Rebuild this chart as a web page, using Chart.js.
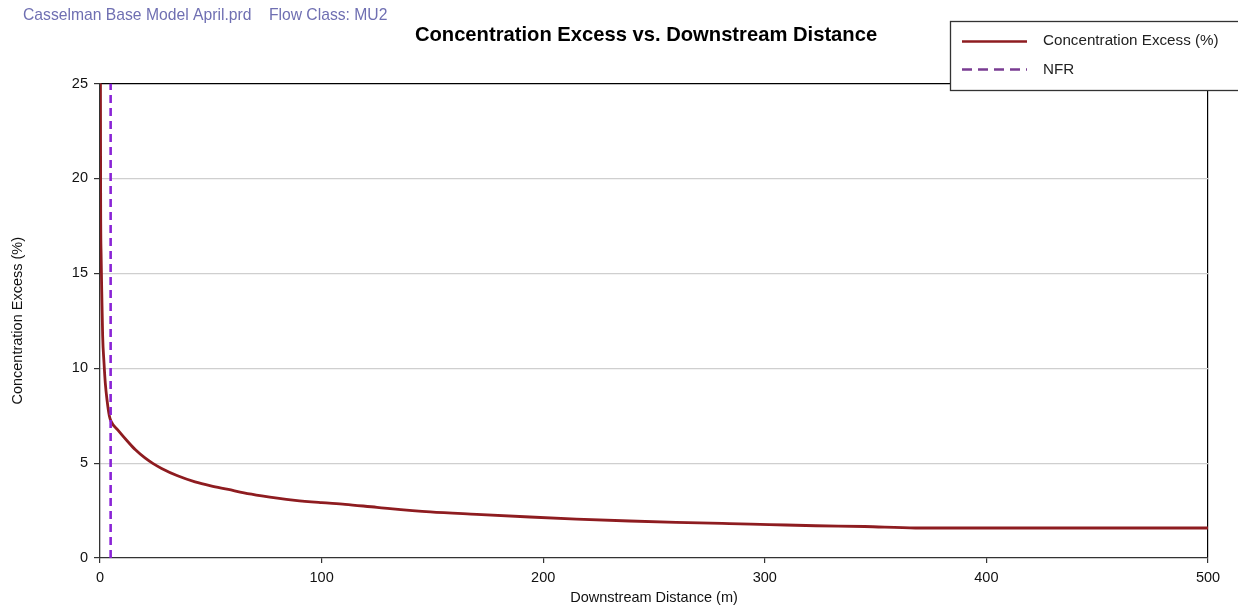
<!DOCTYPE html>
<html>
<head>
<meta charset="utf-8">
<script src="https://cdn.jsdelivr.net/npm/chart.js@4.4.1/dist/chart.umd.min.js"></script>
<style>
html,body{margin:0;padding:0;background:#fff;}
#wrap{position:relative;width:1238px;height:609px;}
canvas{display:block;}
</style>
</head>
<body>
<div id="wrap"><canvas id="c" width="1238" height="609"></canvas></div>
<script>
// ---- data ----
const distance = [0.0, 0.3, 0.5, 0.8, 1.2, 1.8, 2.4, 3.2, 4.2, 5.0, 8, 12.8, 16, 20.3, 24, 27.8, 35, 42.9, 50, 57.9, 65, 73, 80, 88, 100, 110.6, 125, 149, 170, 194, 215, 239, 260, 284, 302, 323, 345, 368, 400, 450, 500];
const excess   = [40.0, 18.6, 16.0, 14.0, 11.7, 10.3, 9.2, 8.3, 7.5, 7.2, 6.75, 6.1, 5.7, 5.27, 4.97, 4.72, 4.33, 4.01, 3.80, 3.61, 3.43, 3.27, 3.15, 3.04, 2.92, 2.83, 2.67, 2.43, 2.30, 2.16, 2.05, 1.95, 1.88, 1.81, 1.76, 1.70, 1.66, 1.58, 1.58, 1.58, 1.58];
const nfrX = [4.8, 4.8];
const nfrY = [0, 25];
const xTicks = [0, 100, 200, 300, 400, 500];
const yTicks = [0, 5, 10, 15, 20, 25];
const subtitleText = "Casselman Base Model April.prd    Flow Class: MU2";
const titleText = "Concentration Excess vs. Downstream Distance";
const seriesNames = ["Concentration Excess (%)", "NFR"];

const RED = '#8e1c20';
const PURPLE = '#8a24d6';
const FONT = "'Liberation Sans', Arial, sans-serif";

const curve = distance.map((d, i) => ({x: d, y: excess[i]}));
const nfr = nfrX.map((d, i) => ({x: d, y: nfrY[i]}));

const decor = {
  id: 'decor',
  afterDraw(chart) {
    const ctx = chart.ctx;
    ctx.save();
    // subtitle
    ctx.fillStyle = '#6f6fb2';
    ctx.font = "15.7px " + FONT;
    ctx.textBaseline = 'middle';
    ctx.textAlign = 'left';
    ctx.fillText(subtitleText, 23, 16);
    // title
    ctx.fillStyle = '#000';
    ctx.font = "bold 20.2px " + FONT;
    ctx.textAlign = 'center';
    ctx.fillText(titleText, 646, 35);
    // legend box
    ctx.fillStyle = '#fff';
    ctx.fillRect(950, 21.5, 300, 69);
    ctx.strokeStyle = '#333';
    ctx.lineWidth = 1.3;
    ctx.strokeRect(950.5, 21.5, 300, 69);
    ctx.lineWidth = 2.5;
    ctx.strokeStyle = RED;
    ctx.beginPath(); ctx.moveTo(962, 41.5); ctx.lineTo(1027, 41.5); ctx.stroke();
    ctx.strokeStyle = '#7a3c92';
    ctx.setLineDash([10, 6]);
    ctx.beginPath(); ctx.moveTo(962, 69.5); ctx.lineTo(1027, 69.5); ctx.stroke();
    ctx.setLineDash([]);
    ctx.fillStyle = '#222';
    ctx.font = "15.2px " + FONT;
    ctx.textAlign = 'left';
    ctx.fillText(seriesNames[0], 1043, 41);
    ctx.fillText(seriesNames[1], 1043, 69.5);
    ctx.restore();
  }
};

new Chart(document.getElementById('c'), {
  type: 'line',
  data: {
    datasets: [
      {label: seriesNames[1], data: nfr, borderColor: PURPLE, borderWidth: 2.6, borderDash: [8, 5], pointRadius: 0, tension: 0},
      {label: seriesNames[0], data: curve, borderColor: RED, borderWidth: 2.8, pointRadius: 0, cubicInterpolationMode: 'monotone'}
    ]
  },
  options: {
    responsive: false,
    animation: false,
    events: [],
    layout: {padding: {top: 83.5, right: 30, left: 0, bottom: 0}},
    plugins: {legend: {display: false}, title: {display: false}, tooltip: {enabled: false}},
    scales: {
      x: {
        type: 'linear', min: 0, max: 500,
        afterBuildTicks(s) { s.ticks = xTicks.map(v => ({value: v})); },
        afterFit(s) { s.height = 51; },
        grid: {
          drawOnChartArea: true,
          color: c => (c.tick && c.tick.value === 500) ? '#000' : 'rgba(0,0,0,0)',
          tickColor: '#333', tickLength: 5, lineWidth: 1.2
        },
        border: {display: true, color: '#333', width: 1.3},
        ticks: {color: '#111', font: {family: FONT, size: 14.5}, padding: 6, maxRotation: 0},
        title: {display: true, text: 'Downstream Distance (m)', color: '#111', font: {family: FONT, size: 14.5}, padding: {top: 0, bottom: 2}}
      },
      y: {
        type: 'linear', min: 0, max: 25,
        afterBuildTicks(s) { s.ticks = yTicks.map(v => ({value: v})); },
        afterFit(s) { s.width = 100; },
        grid: {
          color: c => {
            const v = c.tick && c.tick.value;
            if (v === 25) return '#000';
            if (v === 0) return 'rgba(0,0,0,0)';
            return '#cfcfcf';
          },
          tickColor: '#333', tickLength: 6, lineWidth: 1.2
        },
        border: {display: true, color: '#333', width: 1.3},
        ticks: {color: '#111', font: {family: FONT, size: 14.5}, padding: 6},
        title: {display: true, text: 'Concentration Excess (%)', color: '#111', font: {family: FONT, size: 14.5}, padding: {top: 9, bottom: 0}}
      }
    }
  },
  plugins: [decor]
});
</script>
</body>
</html>
